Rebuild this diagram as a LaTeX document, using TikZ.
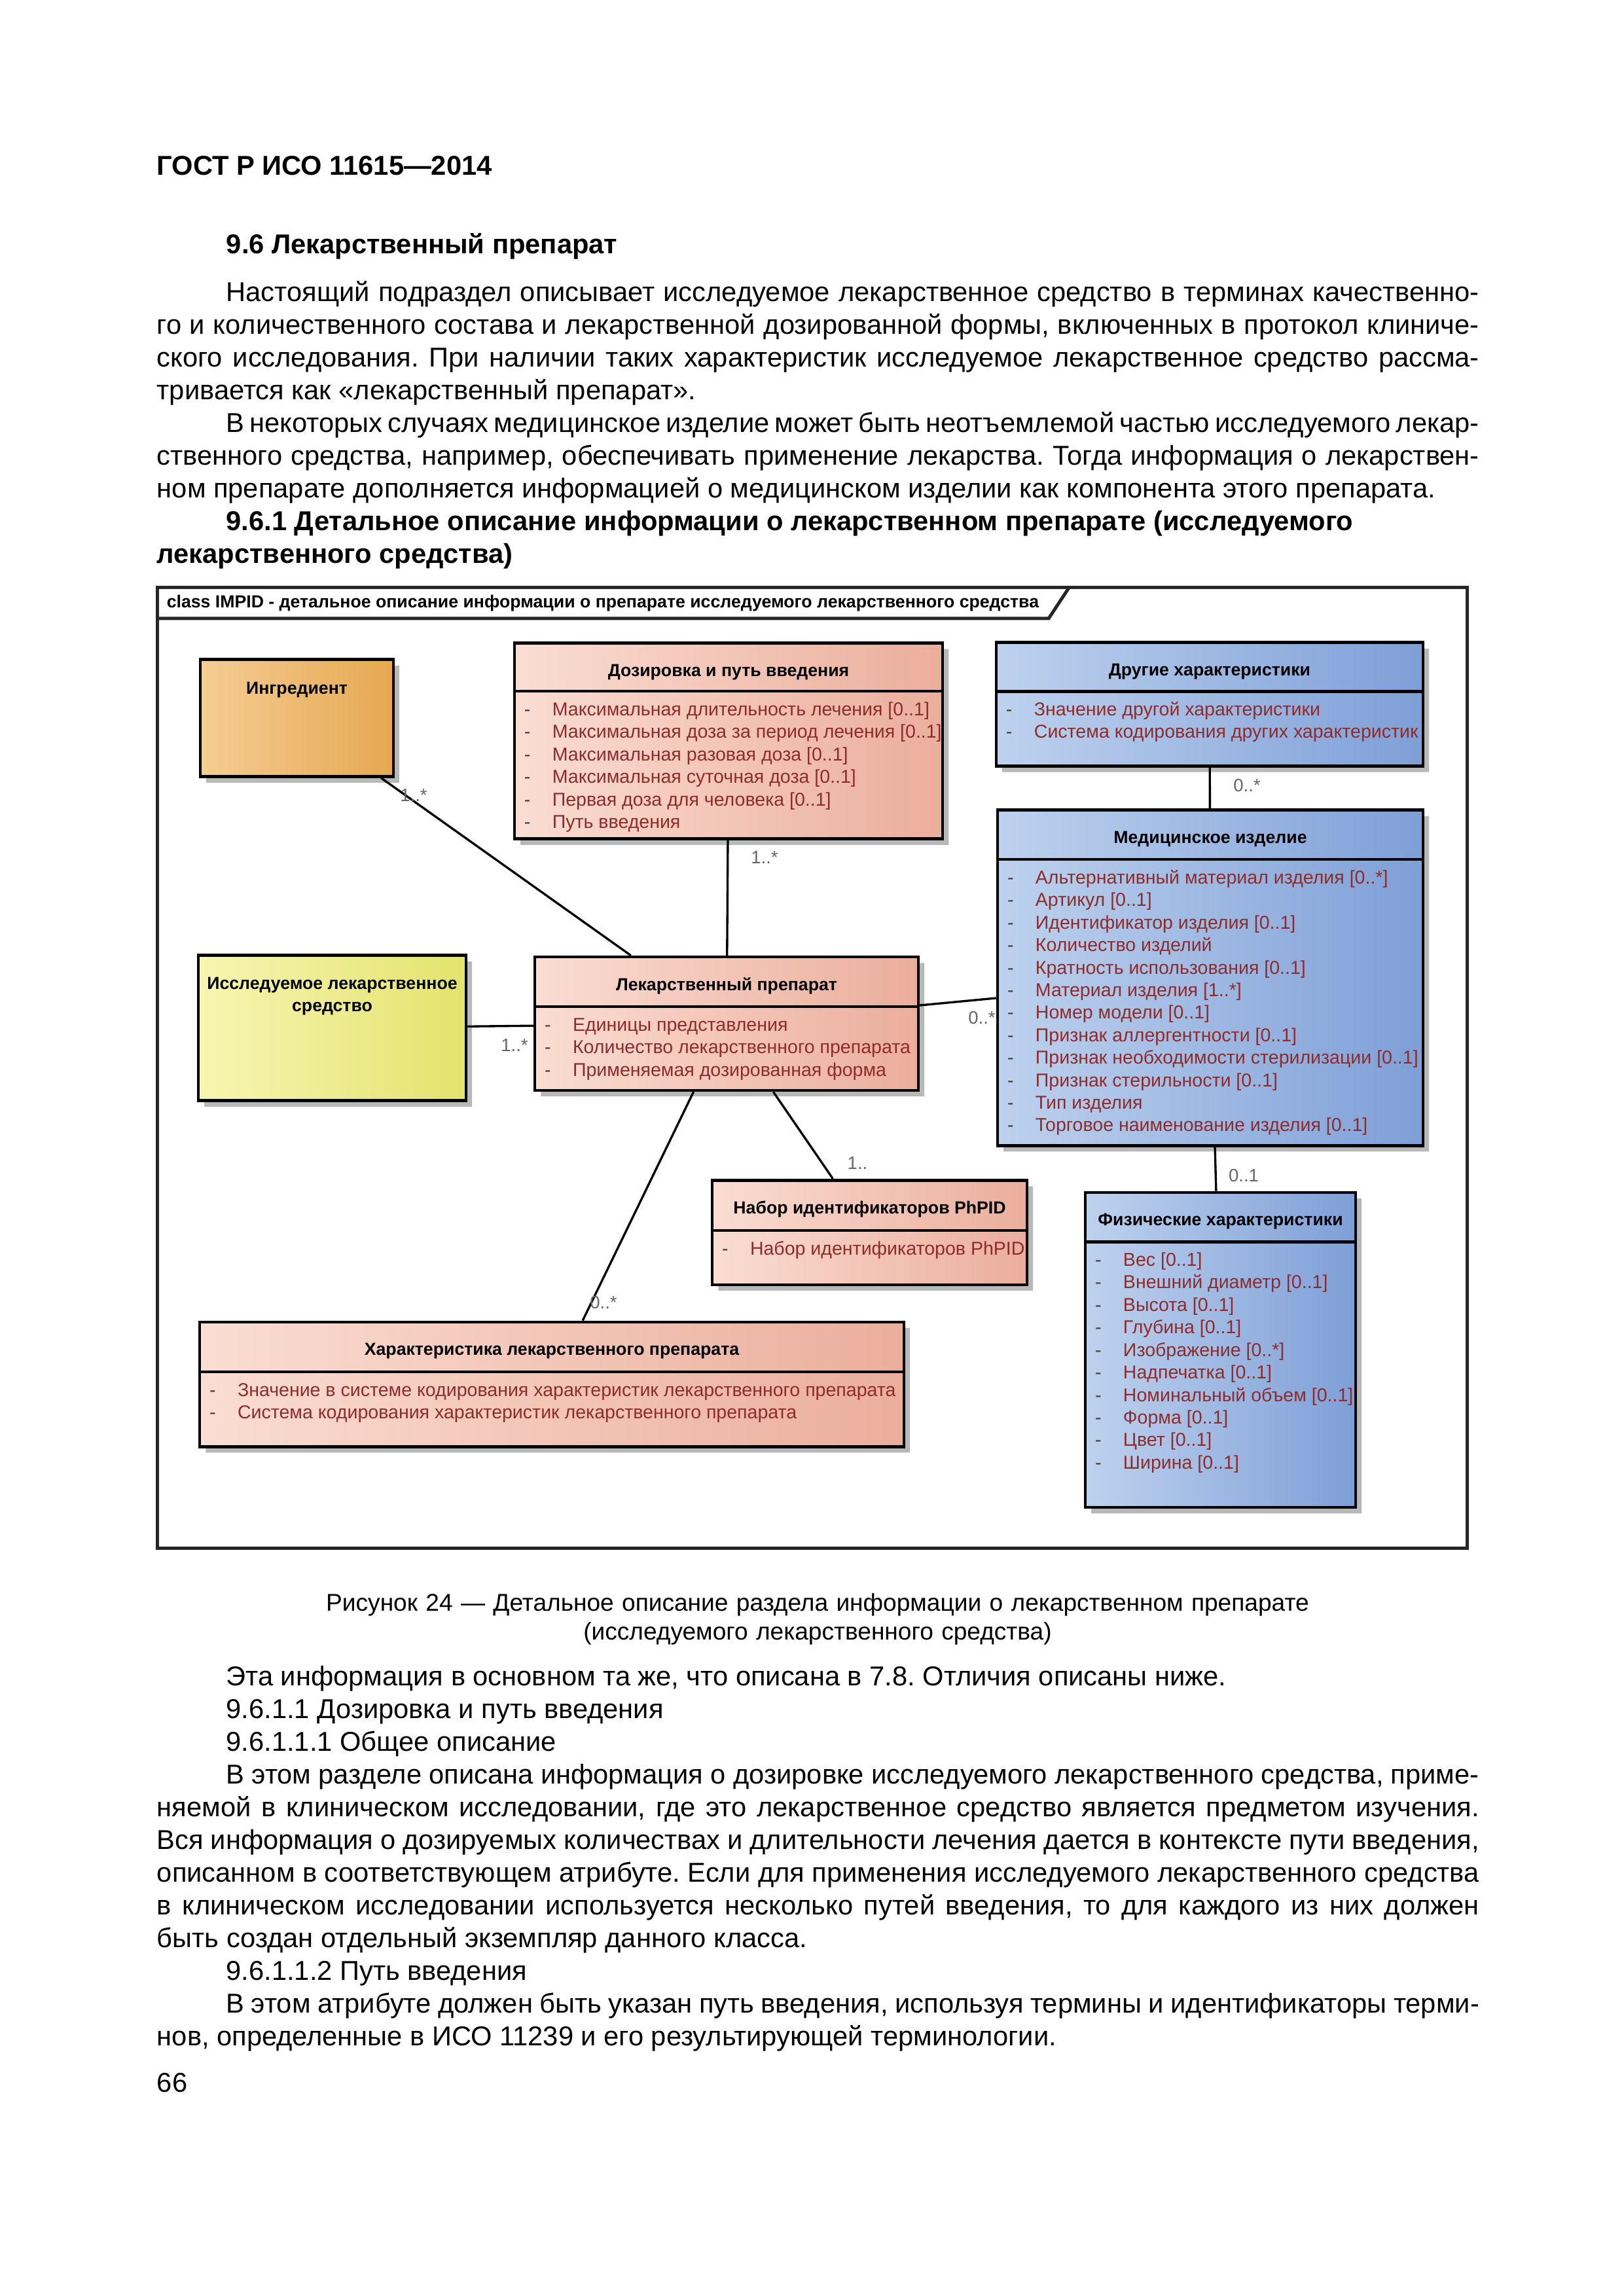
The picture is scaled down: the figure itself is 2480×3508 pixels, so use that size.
\documentclass[tikz,border=0pt]{standalone}
\usepackage{fontspec}
\setmainfont{Liberation Sans}
\usetikzlibrary{shapes.multipart,shadows}
\frenchspacing

\definecolor{orangeL}{HTML}{F5CD92}
\definecolor{orangeR}{HTML}{E6A852}
\definecolor{yellowL}{HTML}{F8F5B2}
\definecolor{yellowR}{HTML}{E3E36E}
\definecolor{pinkL}{HTML}{FADDD2}
\definecolor{pinkR}{HTML}{EBAE9C}
\definecolor{blueL}{HTML}{BED2EE}
\definecolor{blueR}{HTML}{7E9FD7}
\definecolor{attrred}{HTML}{8E2C2C}

% normal word spaces, and a justified line of the page text
\newcommand{\np}{\spaceskip=0pt\xspaceskip=0pt\relax}
\newcommand{\jl}[1]{\makebox[484.8pt][s]{\np #1}}
\newcommand{\ind}{\hspace*{25.4pt}}
% class compartments
\newcommand{\clstitle}{\bfseries\fontsize{6.4}{8.26}\selectfont}
\newcommand{\clshead}[3]{\parbox[c][#2][t]{#1}{\centering\clstitle\rule{0pt}{11.7pt}#3}}
\newcommand{\clsbody}[3]{\parbox[c][#2][t]{#1}{\vspace*{2.6pt}#3}}
\newcommand{\attr}[1]{\strut\hspace*{3.6pt}\makebox[10.3pt][l]{\textcolor{black!75}{-}}\textcolor{attrred}{#1}\par}

\begin{document}
\begin{tikzpicture}[x=0.24pt, y=-0.24pt,
  page/.style={anchor=base west, inner sep=0pt, text width=484.8pt, align=left, font=\fontsize{10}{12}\selectfont},
  pagebf/.style={page, font=\fontsize{10}{12}\selectfont\bfseries},
  cls/.style={rectangle split, rectangle split parts=2, draw=black, line width=1.1pt, inner sep=0pt,
    font=\fontsize{6.85}{8.26}\selectfont, drop shadow={shadow xshift=2.2pt, shadow yshift=-2.2pt, fill=black!28, opacity=1}},
  clsone/.style={cls, rectangle split parts=1},
  orangebox/.style={left color=orangeL, right color=orangeR},
  yellowbox/.style={left color=yellowL, right color=yellowR},
  pinkbox/.style={left color=pinkL, right color=pinkR},
  bluebox/.style={left color=blueL, right color=blueR},
  assoc/.style={line width=0.8pt, black},
  mult/.style={inner sep=0pt, font=\fontsize{6.6}{8}\selectfont, text=black!60},
  frame/.style={line width=1.2pt, black!85}]
\useasboundingbox[fill=white] (0,0) rectangle (2480,3508);

% page head and text above the figure
\node[pagebf, text width=] (gost) at (239,268) {\np ГОСТ Р ИСО 11615—2014};
\node[pagebf, text width=] (sec96) at (345,388) {\np 9.6 Лекарственный препарат};
\node[page] (par1) at (239,461) {\jl{\ind Настоящий подраздел описывает исследуемое лекарственное средство в терминах качественно-}\\
\jl{го и количественного состава и лекарственной дозированной формы, включенных в протокол клиниче-}\\
\jl{ского исследования. При наличии таких характеристик исследуемое лекарственное средство рассма-}\\
\np тривается как «лекарственный препарат».};
\node[page] (par2) at (239,661) {\jl{\ind В некоторых случаях медицинское изделие может быть неотъемлемой частью исследуемого лекар-}\\
\jl{ственного средства, например, обеспечивать применение лекарства. Тогда информация о лекарствен-}\\
\np ном препарате дополняется информацией о медицинском изделии как компонента этого препарата.};
\node[pagebf] (sec961) at (239,811) {\np\ind 9.6.1 Детальное описание информации о лекарственном препарате (исследуемого\\
лекарственного средства)};

% figure frame
\draw[frame] (240,898) rectangle (2241,2365);
\draw[frame] (240,945) -- (1602,945) -- (1633,898);
\node[anchor=base west, inner sep=0pt, font=\fontsize{6.4}{8}\selectfont\bfseries] (tabttl) at (254,929)
  {class IMPID - детальное описание информации о препарате исследуемого лекарственного средства};

% classes
\node[clsone, orangebox] (ingr) at (453.5,1097)
  {\parbox[c][41.8pt][t]{70.8pt}{\centering\clstitle\rule{0pt}{12.2pt}Ингредиент}};
\node[cls, pinkbox] (dose) at (1113,1132)
  {\clshead{157pt}{16.6pt}{Дозировка и путь введения}\nodepart{two}\clsbody{157pt}{53pt}{%
   \attr{Максимальная длительность лечения [0..1]}\attr{Максимальная доза за период лечения [0..1]}%
   \attr{Максимальная разовая доза [0..1]}\attr{Максимальная суточная доза [0..1]}%
   \attr{Первая доза для человека [0..1]}\attr{Путь введения}}};
\node[cls, bluebox] (other) at (1848,1076)
  {\clshead{156.5pt}{16.8pt}{Другие характеристики}\nodepart{two}\clsbody{156.5pt}{26.3pt}{%
   \attr{Значение другой характеристики}\attr{Система кодирования других характеристик}}};
\node[cls, bluebox] (device) at (1849,1494)
  {\clshead{156pt}{17pt}{Медицинское изделие}\nodepart{two}\clsbody{156pt}{103.8pt}{%
   \attr{Альтернативный материал изделия [0..*]}\attr{Артикул [0..1]}%
   \attr{Идентификатор изделия [0..1]}\attr{Количество изделий}%
   \attr{Кратность использования [0..1]}\attr{Материал изделия [1..*]}%
   \attr{Номер модели [0..1]}\attr{Признак аллергентности [0..1]}%
   \attr{Признак необходимости стерилизации [0..1]}\attr{Признак стерильности [0..1]}%
   \attr{Тип изделия}\attr{Торговое наименование изделия [0..1]}}};
\node[clsone, yellowbox] (imp) at (507.5,1570.5)
  {\parbox[c][52.1pt][t]{98.2pt}{\centering\clstitle\rule{0pt}{11.9pt}Исследуемое лекарственное\\средство}};
\node[cls, pinkbox] (prod) at (1110,1564)
  {\clshead{140.6pt}{17.1pt}{Лекарственный препарат}\nodepart{two}\clsbody{140.6pt}{29.6pt}{%
   \attr{Единицы представления}\attr{Количество лекарственного препарата}%
   \attr{Применяемая дозированная форма}}};
\node[cls, pinkbox] (phpid) at (1328.5,1883)
  {\clshead{115.4pt}{17.3pt}{Набор идентификаторов PhPID}\nodepart{two}\clsbody{115.4pt}{18.8pt}{%
   \attr{Набор идентификаторов PhPID}}};
\node[cls, bluebox] (phys) at (1864.5,2062.5)
  {\clshead{99.1pt}{17pt}{Физические характеристики}\nodepart{two}\clsbody{99.1pt}{96.3pt}{%
   \attr{Вес [0..1]}\attr{Внешний диаметр [0..1]}\attr{Высота [0..1]}\attr{Глубина [0..1]}%
   \attr{Изображение [0..*]}\attr{Надпечатка [0..1]}\attr{Номинальный объем [0..1]}%
   \attr{Форма [0..1]}\attr{Цвет [0..1]}\attr{Ширина [0..1]}}};
\node[cls, pinkbox] (prodchar) at (843,2115)
  {\clshead{258.2pt}{17.2pt}{Характеристика лекарственного препарата}\nodepart{two}\clsbody{258.2pt}{26.3pt}{%
   \attr{Значение в системе кодирования характеристик лекарственного препарата}%
   \attr{Система кодирования характеристик лекарственного препарата}}};

% associations
\draw[assoc] (ingr) -- (prod);
\draw[assoc] (dose) -- (prod);
\draw[assoc] (imp) -- (prod);
\draw[assoc] (prod) -- (device);
\draw[assoc] (other) -- (device);
\draw[assoc] (device) -- (phys);
\draw[assoc] (prod) -- (phpid);
\draw[assoc] (prod) -- (prodchar);

% multiplicities
\node[mult] (mIngr) at (632,1215) {1..*};
\node[mult] (mDose) at (1168,1310) {1..*};
\node[mult] (mImp) at (786,1597) {1..*};
\node[mult] (mDevice) at (1500,1555) {0..*};
\node[mult] (mOther) at (1905,1200) {0..*};
\node[mult] (mPhys) at (1900,1796) {0..1};
\node[mult] (mPhpid) at (1310,1777) {1..};
\node[mult] (mChar) at (922,1990) {0..*};

% caption and text below the figure
\node[page, anchor=base, align=center, font=\fontsize{8.9}{10.6}\selectfont] (cap) at (1249,2461)
  {Рисунок 24 — Детальное описание раздела информации о лекарственном препарате\\(исследуемого лекарственного средства)};
\node[page] (note) at (239,2575) {\np\ind Эта информация в основном та же, что описана в 7.8. Отличия описаны ниже.};
\node[page] (s9611) at (239,2625) {\np\ind 9.6.1.1 Дозировка и путь введения};
\node[page] (s96111) at (239,2675) {\np\ind 9.6.1.1.1 Общее описание};
\node[page] (par3) at (239,2725) {\jl{\ind В этом разделе описана информация о дозировке исследуемого лекарственного средства, приме-}\\
\jl{няемой в клиническом исследовании, где это лекарственное средство является предметом изучения.}\\
\jl{Вся информация о дозируемых количествах и длительности лечения дается в контексте пути введения,}\\
\jl{описанном в соответствующем атрибуте. Если для применения исследуемого лекарственного средства}\\
\jl{в клиническом исследовании используется несколько путей введения, то для каждого из них должен}\\
\np быть создан отдельный экземпляр данного класса.};
\node[page] (s96112) at (239,3025) {\np\ind 9.6.1.1.2 Путь введения};
\node[page] (par4) at (239,3075) {\jl{\ind В этом атрибуте должен быть указан путь введения, используя термины и идентификаторы терми-}\\
\np нов, определенные в ИСО 11239 и его результирующей терминологии.};
\node[page] (pnum) at (239,3196) {66};
\end{tikzpicture}
\end{document}
